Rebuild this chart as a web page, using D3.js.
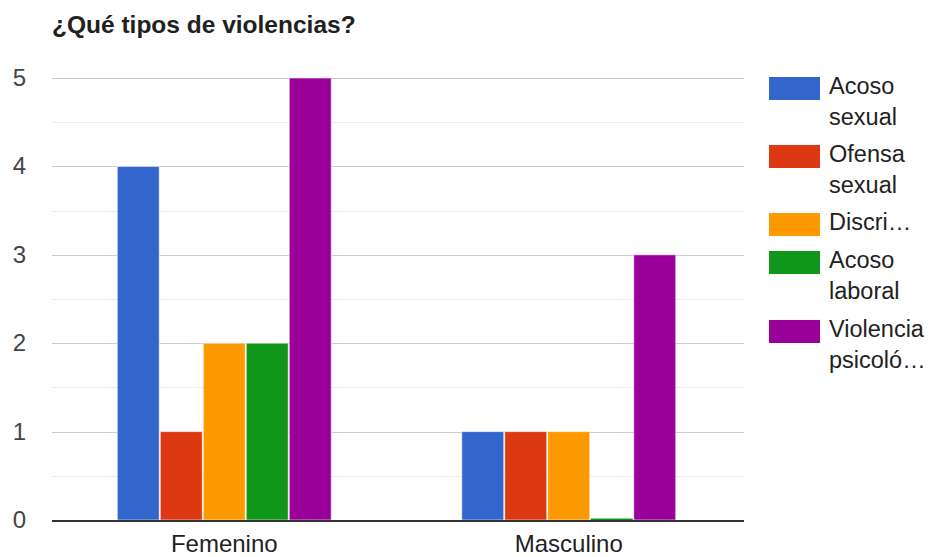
<!DOCTYPE html>
<html><head><meta charset="utf-8">
<script src="https://cdn.jsdelivr.net/npm/d3@7"></script>
<style>body{margin:0;background:#fff}svg{display:block}</style>
</head><body><svg id="c" width="934" height="557"></svg>
<script>
const categories = ["Femenino", "Masculino"];
const seriesNames = ["Acoso sexual", "Ofensa sexual", "Discri…", "Acoso laboral", "Violencia psicoló…"];
const legendLines = [["Acoso","sexual"],["Ofensa","sexual"],["Discri…"],["Acoso","laboral"],["Violencia","psicoló…"]];
const colors = ["#3366cc", "#dc3912", "#ff9900", "#109618", "#990099"];
const acosoSexual = [4, 1];
const ofensaSexual = [1, 1];
const discriminacion = [2, 1];
const acosoLaboral = [2, 0];
const violenciaPsicologica = [5, 3];
const yTicks = [0, 1, 2, 3, 4, 5];
const yMinor = [0.5, 1.5, 2.5, 3.5, 4.5];
const title = "¿Qué tipos de violencias?";

const series = [acosoSexual, ofensaSexual, discriminacion, acosoLaboral, violenciaPsicologica];
const svg = d3.select("#c");
const font = "'Liberation Sans', Arial, sans-serif";
const L = 52, R = 741, T = 78, B = 520;

const x0 = d3.scaleBand().domain(categories).range([L, R]).paddingInner(0).paddingOuter(0);
const groupW = x0.bandwidth() * 0.624;
const x1 = d3.scaleBand().domain(d3.range(series.length)).range([0, groupW]).paddingInner(0);
const y = d3.scaleLinear().domain([0, 5]).range([B, T]);

svg.append("text").attr("x", L).attr("y", 33).attr("font-family", font)
  .attr("font-weight", "bold").attr("font-size", 24.5).attr("fill", "#212121").text(title);

svg.append("g").selectAll("line").data(yMinor).join("line")
  .attr("x1", L).attr("x2", 744).attr("y1", d => Math.round(y(d)) + 0.5).attr("y2", d => Math.round(y(d)) + 0.5)
  .attr("stroke", "#ebebeb").attr("stroke-width", 1);
svg.append("g").selectAll("line").data(yTicks.filter(d => d > 0)).join("line")
  .attr("x1", L).attr("x2", 744).attr("y1", d => Math.round(y(d)) + 0.5).attr("y2", d => Math.round(y(d)) + 0.5)
  .attr("stroke", "#cccccc").attr("stroke-width", 1);

svg.append("g").selectAll("text").data(yTicks).join("text")
  .attr("x", 26).attr("y", d => y(d) + 8).attr("text-anchor", "end")
  .attr("font-family", font).attr("font-size", 24).attr("fill", "#444").text(d => d);

const g = svg.append("g");
categories.forEach((cat, ci) => {
  const gx = x0(cat) + (x0.bandwidth() - groupW) / 2;
  series.forEach((s, si) => {
    const v = s[ci];
    const h = Math.max(1.5, B - y(v));
    g.append("rect").attr("x", gx + x1(si) + 0.5).attr("y", B - h)
      .attr("width", x1.bandwidth() - 1).attr("height", h)
      .attr("fill", colors[si]).attr("stroke", v > 0 ? "#fff" : "none").attr("stroke-opacity", 0.6).attr("stroke-width", 1);
  });
  svg.append("text").attr("x", x0(cat) + x0.bandwidth() / 2).attr("y", 552)
    .attr("text-anchor", "middle").attr("font-family", font).attr("font-size", 24).attr("fill", "#222").text(cat);
});

svg.append("line").attr("x1", L).attr("x2", 744).attr("y1", B + 1).attr("y2", B + 1)
  .attr("stroke", "#333").attr("stroke-width", 2);

const legendTops = [77, 145, 213, 251, 320];
const lg = svg.append("g");
seriesNames.forEach((name, i) => {
  lg.append("rect").attr("x", 769).attr("y", legendTops[i]).attr("width", 51).attr("height", 23)
    .attr("fill", colors[i]);
  const t = lg.append("text").attr("font-family", font).attr("font-size", 23.5).attr("fill", "#222");
  legendLines[i].forEach((ln, k) => {
    t.append("tspan").attr("x", 829).attr("y", legendTops[i] + 17 + k * 30.5).text(ln);
  });
});
</script></body></html>
